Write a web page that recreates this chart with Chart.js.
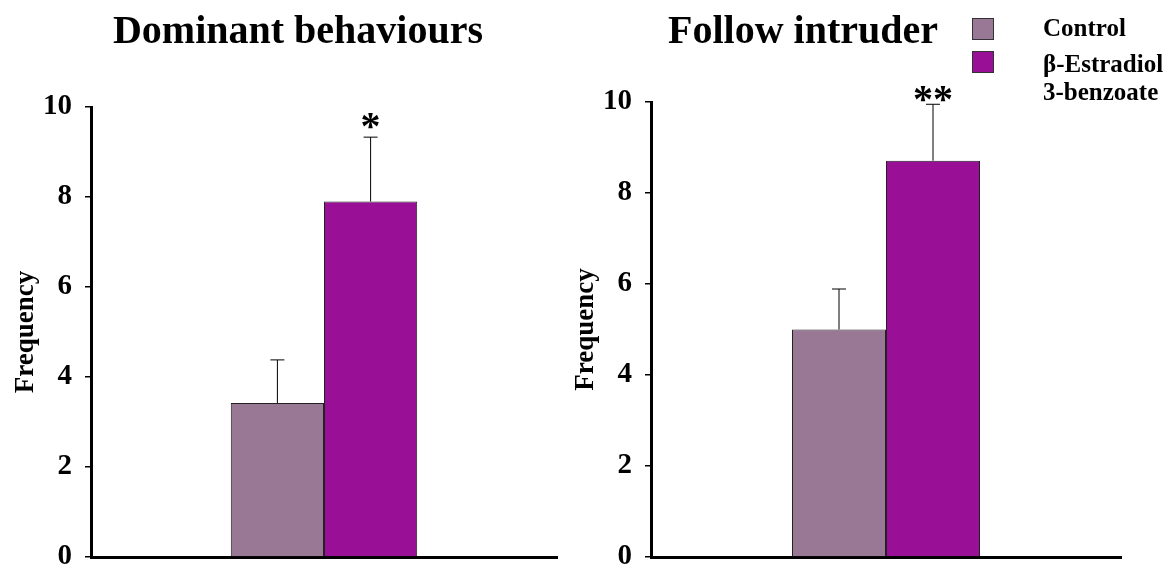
<!DOCTYPE html>
<html>
<head>
<meta charset="utf-8">
<script src="https://cdn.jsdelivr.net/npm/chart.js@4/dist/chart.umd.min.js"></script>
<style>
  body { margin: 0; background: #fff; }
  #wrap { position: relative; width: 1166px; height: 566px; overflow: hidden; font-family: "Liberation Serif", "Times New Roman", serif; }
  .panel { position: absolute; top: 0; height: 566px; }
  .title { position: absolute; top: 10px; font-size: 40px; font-weight: bold; line-height: 1; white-space: nowrap; transform: translateX(-50%); color: #000; }
  .sw { position: absolute; width: 20px; height: 20px; border: 1px solid #333; }
  .lt { position: absolute; font-size: 25px; font-weight: bold; line-height: 1; white-space: nowrap; color: #000; }
</style>
</head>
<body>
<div id="wrap">
  <div class="panel" style="left:0;width:560px"><canvas id="chart-left" width="560" height="566"></canvas></div>
  <div class="panel" style="left:560px;width:606px"><canvas id="chart-right" width="606" height="566"></canvas></div>
  <div class="title" id="title-left" style="left:298px"></div>
  <div class="title" id="title-right" style="left:803px"></div>
  <div id="legend"></div>
</div>
<script>
// data
const panelTitles = ['Dominant behaviours', 'Follow intruder'];
const groupNames = ['Control', 'β-Estradiol 3-benzoate'];
const controlMeans = [3.42, 5.0];
const controlSem = [0.96, 0.89];
const estradiolMeans = [7.9, 8.71];
const estradiolSem = [1.43, 1.24];
const stars = ['*', '**'];
const yTicks = [0, 2, 4, 6, 8, 10];

const COLORS = ['#997896', '#990f96'];
const FONT = '"Liberation Serif", "Times New Roman", serif';

// error bars + significance stars
const errorBarPlugin = {
  id: 'errorBars',
  afterDatasetsDraw(chart, args, opts) {
    const ctx = chart.ctx;
    const y = chart.scales.y;
    ctx.save();
    ctx.strokeStyle = '#000';
    ctx.lineWidth = 1;
    chart.data.datasets.forEach((ds, di) => {
      const meta = chart.getDatasetMeta(di);
      meta.data.forEach((bar, i) => {
        const top = y.getPixelForValue(ds.data[i] + ds.sem[i]);
        ctx.beginPath();
        ctx.moveTo(bar.x, bar.y);
        ctx.lineTo(bar.x, top);
        ctx.moveTo(bar.x - 7, top);
        ctx.lineTo(bar.x + 7, top);
        ctx.stroke();
        if (ds.star) {
          ctx.fillStyle = '#000';
          ctx.font = 'bold 40px ' + FONT;
          ctx.textAlign = 'center';
          ctx.textBaseline = 'alphabetic';
          ctx.fillText(ds.star, bar.x, top - opts.starGap + 19);
        }
      });
    });
    ctx.restore();
  }
};

function makeChart(canvasId, idx, axisWidth, padTop, padRight, starGap) {
  return new Chart(document.getElementById(canvasId), {
    type: 'bar',
    data: {
      labels: [panelTitles[idx]],
      datasets: [{
        label: groupNames[0],
        data: [controlMeans[idx]],
        sem: [controlSem[idx]],
        backgroundColor: COLORS[0],
        borderColor: '#222',
        borderWidth: 1,
        borderSkipped: 'bottom'
      }, {
        label: groupNames[1],
        data: [estradiolMeans[idx]],
        sem: [estradiolSem[idx]],
        star: stars[idx],
        backgroundColor: COLORS[1],
        borderColor: '#222',
        borderWidth: 1,
        borderSkipped: 'bottom'
      }]
    },
    options: {
      responsive: false,
      animation: false,
      categoryPercentage: 0.4,
      barPercentage: 1.0,
      layout: { padding: { top: padTop, right: padRight, bottom: 9, left: 0 } },
      plugins: {
        legend: { display: false },
        tooltip: { enabled: false },
        errorBars: { starGap: starGap }
      },
      scales: {
        x: {
          grid: { display: false, drawTicks: false },
          border: { display: true, color: '#000', width: 3 },
          ticks: { display: false },
          afterFit(scale) { scale.height = 0; scale.paddingLeft = 0; scale.paddingRight = 0; }
        },
        y: {
          min: 0,
          max: 10,
          afterBuildTicks(scale) { scale.ticks = yTicks.map(v => ({ value: v })); },
          grid: { drawOnChartArea: false, drawTicks: true, tickLength: 6, color: '#000', lineWidth: 1.5 },
          border: { display: true, color: '#000', width: 3 },
          ticks: { color: '#000', padding: 13, font: { family: FONT, size: 29, weight: 'bold' } },
          title: {
            display: true,
            text: 'Frequency',
            color: '#000',
            padding: { top: 10, bottom: 0 },
            font: { family: FONT, size: 27, weight: 'bold' }
          },
          afterFit(scale) { scale.width = axisWidth; scale.paddingTop = 0; scale.paddingBottom = 0; }
        }
      }
    },
    plugins: [errorBarPlugin]
  });
}

document.getElementById('title-left').textContent = panelTitles[0];
document.getElementById('title-right').textContent = panelTitles[1];

// legend
const legend = document.getElementById('legend');
legend.innerHTML = `
  <div class="sw" style="left:972px;top:18px;background:${COLORS[0]}"></div>
  <div class="sw" style="left:972px;top:51px;background:${COLORS[1]}"></div>
  <div class="lt" style="left:1043px;top:15px">${groupNames[0]}</div>
  <div class="lt" style="left:1043px;top:51px">${groupNames[1].split(' ')[0]}</div>
  <div class="lt" style="left:1043px;top:79px">${groupNames[1].split(' ')[1]}</div>
`;

makeChart('chart-left', 0, 91, 107, 3, 17);
makeChart('chart-right', 1, 91, 102, 45, 11);
</script>
</body>
</html>
